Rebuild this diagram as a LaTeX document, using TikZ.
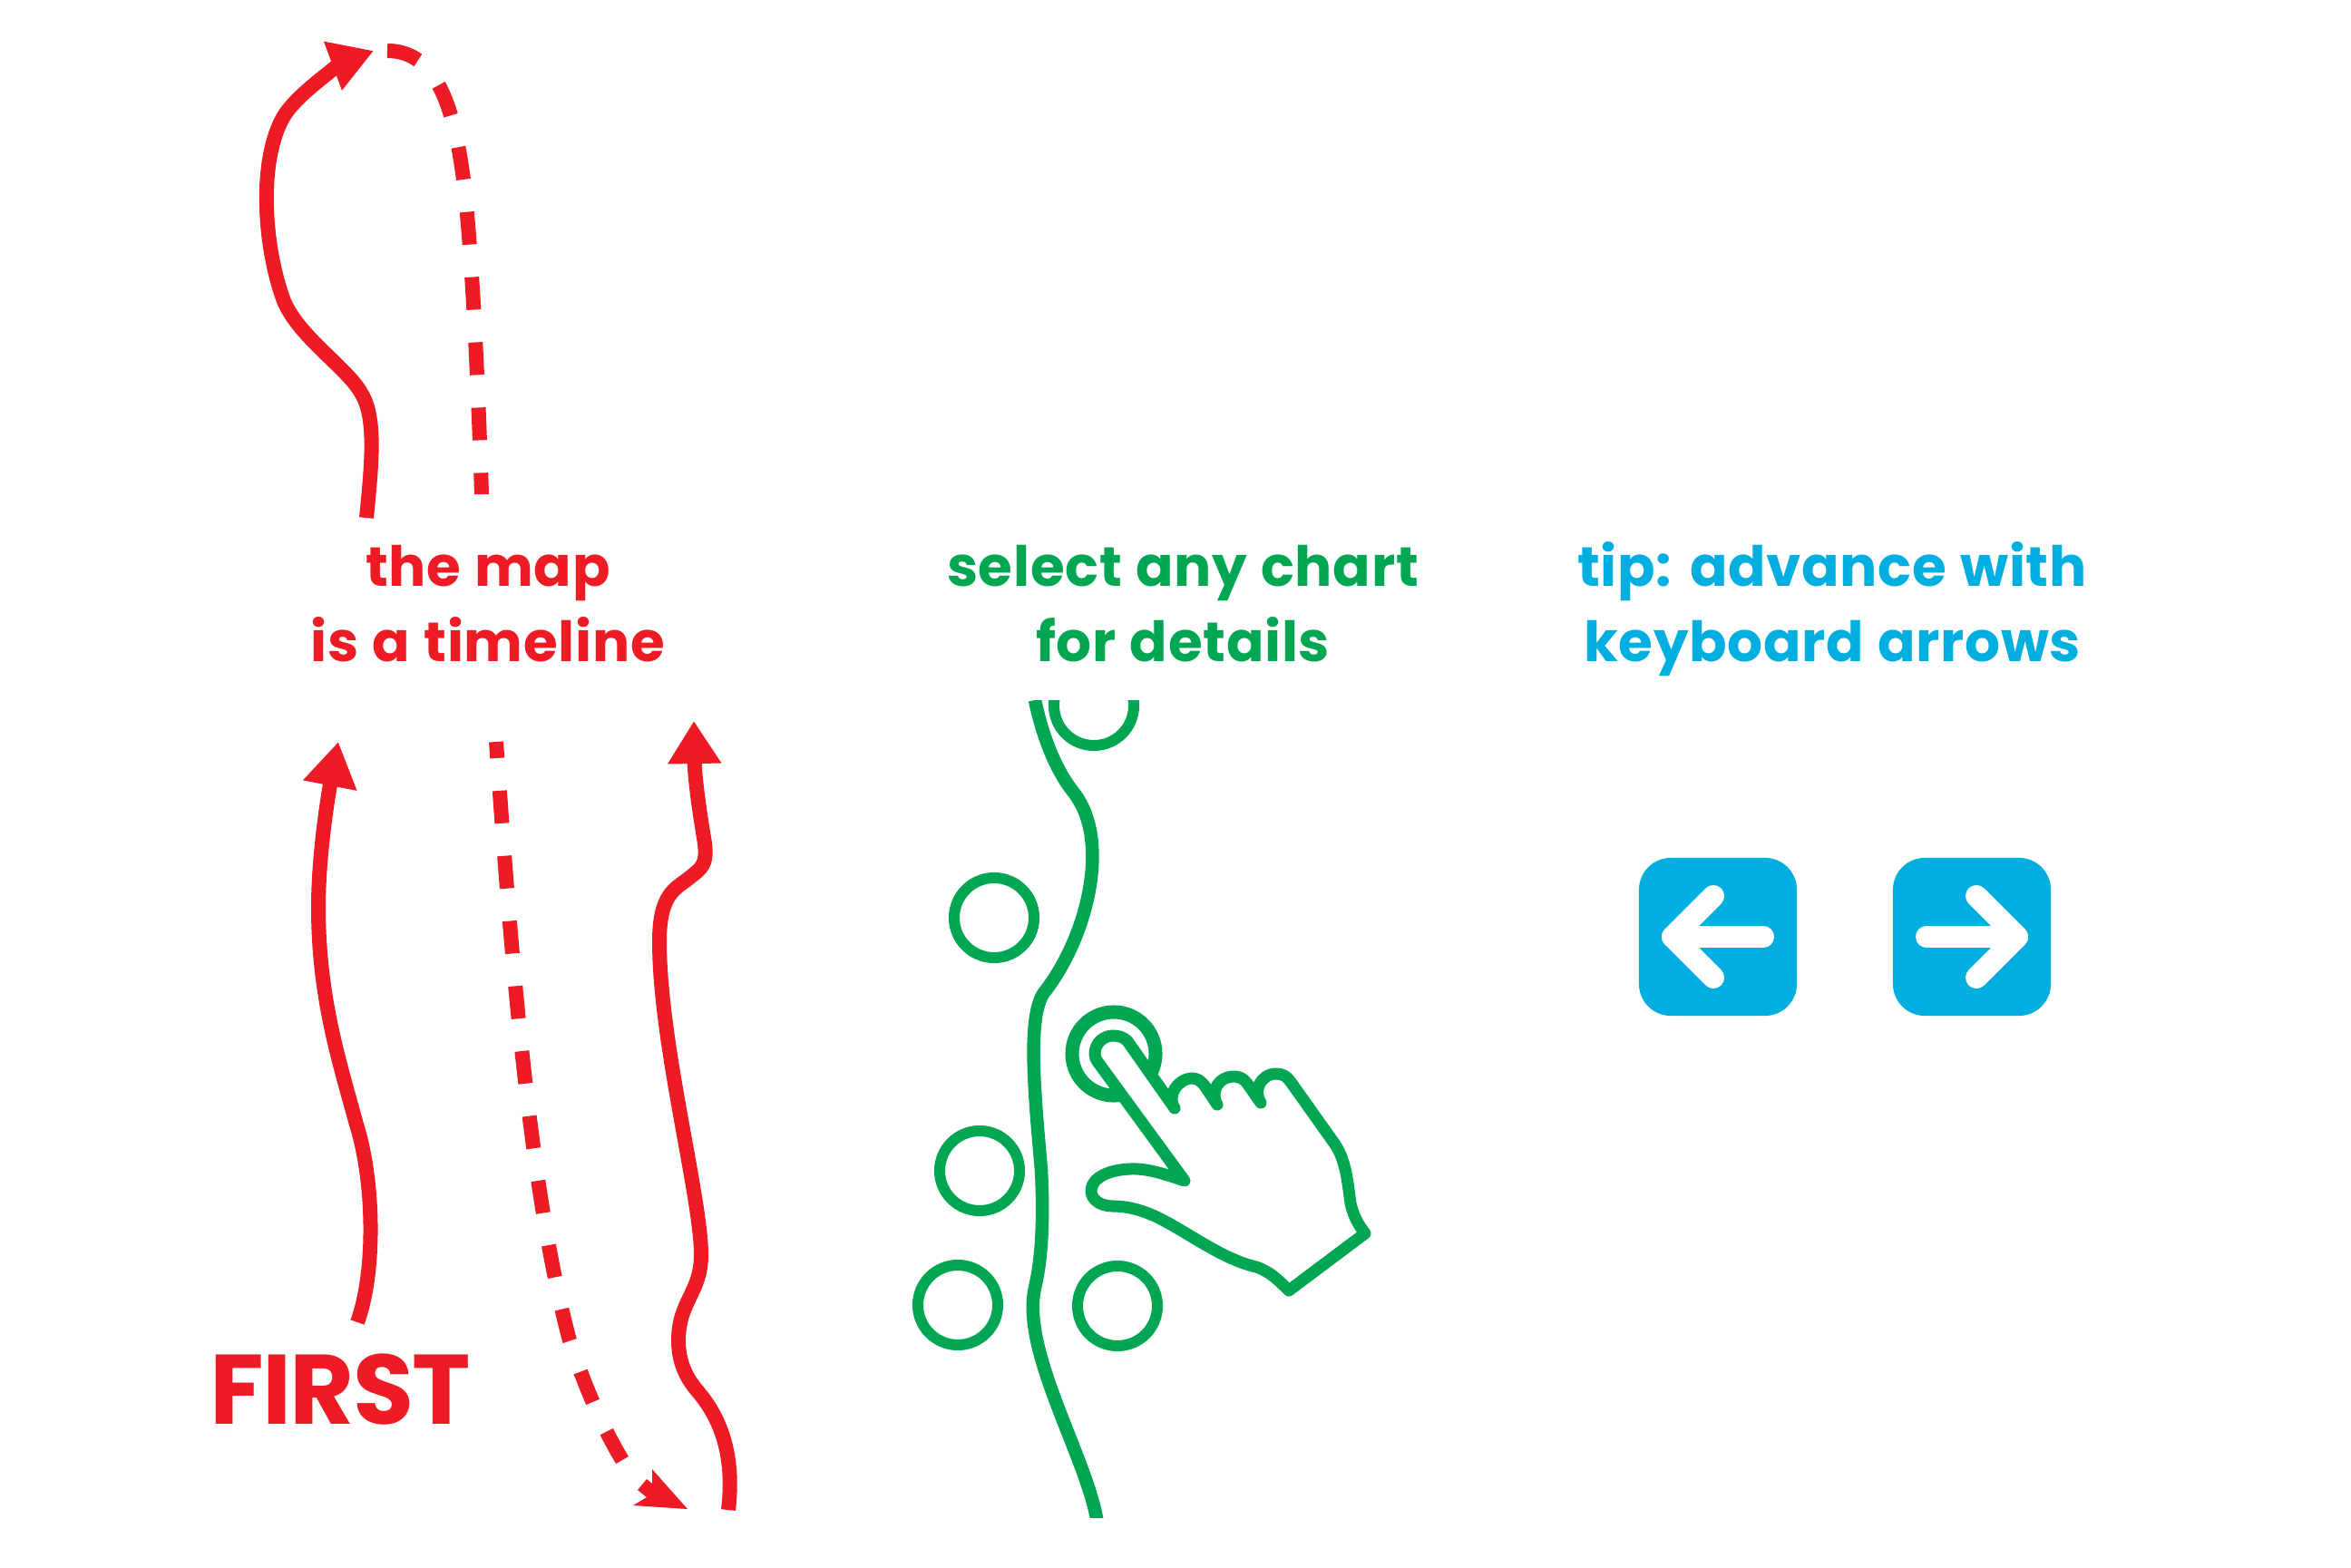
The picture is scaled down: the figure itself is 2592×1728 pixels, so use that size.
\documentclass[tikz,border=0pt]{standalone}
\usepackage{fontspec}
\setmainfont{Poppins}[LetterSpace=1.2, WordSpace=1.1]
\newfontfamily\firstfont{Poppins}[LetterSpace=-1.5]
\usetikzlibrary{arrows.meta}
\definecolor{mapred}{HTML}{ED1C24}
\definecolor{chartgreen}{HTML}{00A651}
\definecolor{tipblue}{HTML}{00AEDF}
\begin{document}
\begin{tikzpicture}[x=0.01cm, y=-0.01cm,
        redline/.style={line width=0.16cm, mapred},
        greenline/.style={line width=0.145cm, chartgreen},
        bubble/.style={line width=0.12cm, chartgreen},
        caption/.style={anchor=base, align=center, font=\fontsize{17.4}{23.6}\selectfont\bfseries},
        keybox/.style={fill=tipblue, rounded corners=0.35cm, minimum size=1.74cm, inner sep=0pt},
        keyarrow/.style={line width=0.24cm, white, line cap=round, line join=round}]
        \useasboundingbox (0,0) rectangle (2592,1728);

        % Krzywa w gore
        \draw[redline, -{Triangle[length=0.48cm, width=0.54cm]}] (404,571) .. controls (410,510) and (415,460) .. (398,433)
            .. controls (382,405) and (330,372) .. (313,332)
            .. controls (290,270) and (285,175) .. (313,128)
            .. controls (330,100) and (385,66) .. (412,56);

        % Przerywana gorna
        \draw[redline, dash pattern=on 0.36cm off 0.36cm] (427,56) .. controls (480,56) and (500,115) .. (511,198)
            .. controls (520,270) and (527,420) .. (531,545);

        % Krzywa nad FIRST
        \draw[redline, -{Triangle[length=0.49cm, width=0.57cm]}] (394,1458) .. controls (415,1400) and (412,1300) .. (393,1240)
            .. controls (374,1170) and (351,1100) .. (351,1000)
            .. controls (351,940) and (363,870) .. (373,818);

        % Przerywana dolna
        \draw[redline, dash pattern=on 0.36cm off 0.36cm, dash phase=0.18cm] (547,818) .. controls (560,1000) and (580,1300) .. (628,1478)
            .. controls (645,1530) and (665,1575) .. (686,1610);
        \fill[mapred] (758,1664) -- (698,1660) -- (713,1651) -- (703,1643) -- (713,1631) -- (719,1636) -- (719,1620) -- cycle;

        % Krzywa po prawej
        \draw[redline, -{Triangle[length=0.47cm, width=0.56cm]}] (803,1665) .. controls (810,1605) and (795,1565) .. (770,1535)
            .. controls (755,1518) and (748,1500) .. (748,1478)
            .. controls (748,1435) and (773,1425) .. (773,1384)
            .. controls (773,1320) and (727,1150) .. (727,1038)
            .. controls (727,985) and (745,980) .. (760,968)
            .. controls (772,958) and (780,955) .. (777,930)
            .. controls (772,900) and (766,860) .. (765,795);

        % Podpisy
        \node[caption, mapred] (maptext) at (538,729) {the map\\is a timeline};
        \node[caption, chartgreen] (charttext) at (1304,729) {select any chart\\for details};
        \node[caption, tipblue] (tiptext) at (2020,729) {tip: advance with\\keyboard arrows};
        \node[mapred, anchor=base, font=\fontsize{31}{36}\selectfont\firstfont\bfseries] (firsttext) at (375,1570) {FIRST};

        % Linia i kolka
        \begin{scope}
            \clip (1000,772) rectangle (1300,1673);
            \draw[greenline] (1141,772) .. controls (1150,815) and (1165,850) .. (1183,873)
                .. controls (1225,925) and (1200,1030) .. (1153,1092)
                .. controls (1132,1115) and (1140,1200) .. (1148,1290)
                .. controls (1151,1350) and (1148,1390) .. (1141,1420)
                .. controls (1125,1490) and (1200,1610) .. (1210,1680);
            \draw[bubble] (1206,778) circle (0.44cm);
        \end{scope}
        \draw[bubble] (1096,1012) circle (0.44cm);
        \draw[bubble] (1080,1291) circle (0.44cm);
        \draw[bubble] (1056,1439) circle (0.44cm);
        \draw[bubble] (1232,1440) circle (0.44cm);

        % Reka
        \draw[line width=0.15cm, chartgreen] (1228,1162) circle (0.46cm);
        \filldraw[fill=white, draw=chartgreen, line width=0.13cm, line join=round] (1207,1162) .. controls (1207,1150) and (1217,1142) .. (1227,1142)
            .. controls (1234,1142) and (1239,1144) .. (1243,1148) -- (1295,1222)
            .. controls (1286,1208) and (1298,1190) .. (1314,1189)
            .. controls (1320,1189) and (1324,1192) .. (1328,1197) -- (1342,1218)
            .. controls (1334,1205) and (1342,1187) .. (1361,1187)
            .. controls (1367,1187) and (1372,1190) .. (1376,1196) -- (1390,1216)
            .. controls (1381,1203) and (1390,1184) .. (1407,1184)
            .. controls (1414,1184) and (1419,1187) .. (1423,1193) -- (1472,1262)
            .. controls (1484,1280) and (1486,1305) .. (1489,1327)
            .. controls (1492,1340) and (1497,1350) .. (1505,1360) -- (1421,1423)
            .. controls (1410,1412) and (1400,1402) .. (1385,1397)
            .. controls (1345,1388) and (1305,1355) .. (1271,1340)
            .. controls (1255,1333) and (1240,1330) .. (1227,1330)
            .. controls (1212,1330) and (1203,1322) .. (1203,1313)
            .. controls (1203,1300) and (1220,1290) .. (1246,1289)
            .. controls (1265,1288) and (1285,1295) .. (1306,1302) -- (1211,1172)
            .. controls (1208,1168) and (1207,1165) .. (1207,1162) -- cycle;

        % Klawisze
        \node[keybox] (leftkey) at (1894,1033) {};
        \node[keybox] (rightkey) at (2174,1033) {};
        \draw[keyarrow] (1944,1033) -- (1844,1033);
        \draw[keyarrow] (1889,988) -- (1844,1033) -- (1889,1078);
        \draw[keyarrow] (2124,1033) -- (2224,1033);
        \draw[keyarrow] (2179,988) -- (2224,1033) -- (2179,1078);
\end{tikzpicture}
\end{document}
